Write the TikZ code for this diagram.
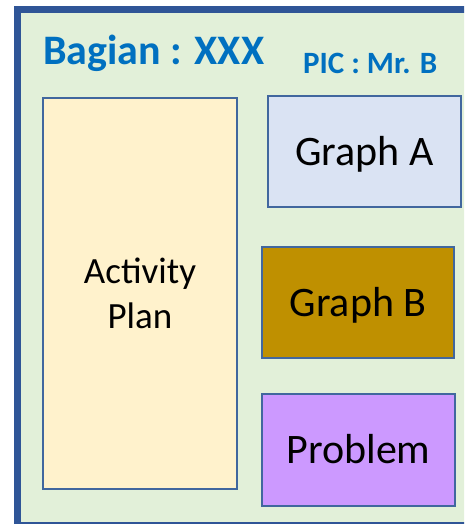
\documentclass[tikz,border=0pt]{standalone}
\usepackage{fontspec}
\setmainfont{Carlito}
\usetikzlibrary{positioning}
\definecolor{frameblue}{HTML}{2F5597}
\definecolor{edgeblue}{HTML}{41679E}
\definecolor{sheetgreen}{HTML}{E2F0D9}
\definecolor{titleblue}{HTML}{0070C0}
\definecolor{planyellow}{HTML}{FFF2CC}
\definecolor{grapha}{HTML}{DAE3F3}
\definecolor{graphb}{HTML}{BF9000}
\definecolor{problemviolet}{HTML}{CC99FF}
\tikzset{panelbox/.style={draw=edgeblue, line width=2pt, rectangle, inner sep=0pt},
  panel/.style={panelbox, font=\fontsize{42}{46}\selectfont, text height=27pt, text depth=0pt},
  heading/.style={anchor=base west, inner sep=0pt, text=titleblue}}

\begin{document}
\begin{tikzpicture}[x=1pt,y=-1pt]
  \useasboundingbox (0,0) rectangle (464,524);
  \clip (0,0) rectangle (464,524);
  % sheet
  \draw [draw=frameblue, fill=sheetgreen, line width=7pt] (17.5,9.5) rectangle (480,525.5);
  \node [heading, font=\bfseries\fontsize{42}{46}\selectfont] (bagian) at (43,65) {Bagian : XXX};
  \node [heading, font=\bfseries\fontsize{31}{34}\selectfont] (pic) at (303,74) {PIC : Mr. B};
  % boxes
  \node [panelbox, fill=planyellow, minimum width=194pt, minimum height=391pt, align=center,
    font=\fontsize{37}{45}\selectfont] (plan) at (140,293.5) {Activity\\Plan};
  \node [panel, fill=grapha, minimum width=193pt, minimum height=111pt] (graphA) at (364.5,151.5) {Graph A};
  \node [panel, fill=graphb, minimum width=192pt, minimum height=111pt] (graphB) at (358,302.5) {Graph B};
  \node [panel, fill=problemviolet, minimum width=193pt, minimum height=112pt] (problem) at (358.5,450) {Problem};
\end{tikzpicture}
\end{document}
